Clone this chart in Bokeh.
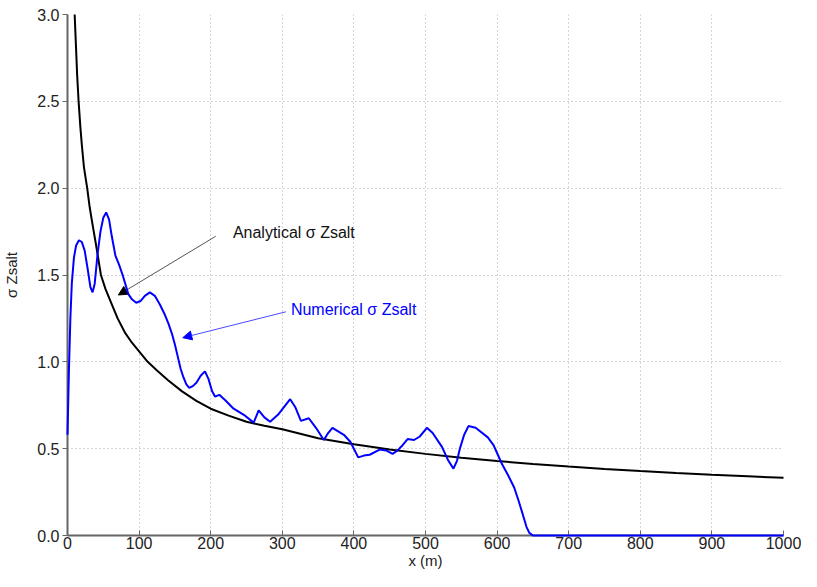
from bokeh.plotting import figure
from bokeh.models import Range1d, FixedTicker, Label, Arrow, NormalHead
from bokeh.embed import file_html
from bokeh.resources import INLINE

# Analytical sigma Zsalt
ana_x = [10, 11, 12, 13.5, 15.5, 18, 20, 23, 27.5, 31, 35, 40, 46.7, 53, 60, 70, 80, 90, 100, 112, 125, 140,
         160, 180, 200, 225, 250, 275, 300, 350, 400, 450, 500, 550, 600, 650, 700, 750, 800, 850, 900, 950, 1000]
ana_y = [3.0, 2.9, 2.8, 2.65, 2.5, 2.35, 2.25, 2.12, 2.0, 1.89, 1.79, 1.67, 1.5, 1.42, 1.35, 1.25, 1.17, 1.11,
         1.06, 1.0, 0.95, 0.895, 0.83, 0.775, 0.73, 0.69, 0.655, 0.632, 0.612, 0.56, 0.525, 0.495, 0.47, 0.448,
         0.429, 0.412, 0.397, 0.383, 0.371, 0.360, 0.350, 0.341, 0.332]

# Numerical sigma Zsalt
num_x = [0, 2, 4, 6, 9, 12, 16, 20, 24, 28, 32, 35, 38, 42, 46, 50, 54, 58, 62, 67, 72, 77, 85, 90, 96, 102, 108,
         115, 122, 129, 135, 141, 146, 150, 154, 158, 162, 166, 170, 175, 180, 186, 192, 197, 202, 206, 212, 220,
         232, 248, 260, 267, 275, 283, 295, 311, 318, 326, 337, 347, 358, 364, 370, 378, 386, 395, 406, 414, 422,
         436, 445, 454, 461, 468, 475, 484, 492, 502, 510, 523, 532, 539, 544, 548, 554, 560, 570, 587, 595, 601,
         607, 615, 624, 630, 636, 641, 645, 650, 1000]
num_y = [0.58, 0.95, 1.25, 1.45, 1.60, 1.67, 1.70, 1.69, 1.64, 1.54, 1.43, 1.40, 1.45, 1.62, 1.75, 1.83, 1.86, 1.82,
         1.72, 1.61, 1.56, 1.50, 1.39, 1.36, 1.34, 1.35, 1.38, 1.40, 1.38, 1.33, 1.28, 1.22, 1.16, 1.10, 1.03, 0.96,
         0.91, 0.87, 0.85, 0.86, 0.88, 0.92, 0.945, 0.90, 0.83, 0.80, 0.81, 0.78, 0.73, 0.69, 0.65, 0.72, 0.68,
         0.655, 0.70, 0.785, 0.74, 0.66, 0.675, 0.62, 0.55, 0.59, 0.62, 0.60, 0.58, 0.54, 0.45, 0.46, 0.465, 0.495,
         0.49, 0.47, 0.49, 0.52, 0.555, 0.55, 0.57, 0.62, 0.59, 0.51, 0.43, 0.385, 0.43, 0.50, 0.58, 0.63, 0.62,
         0.565, 0.52, 0.465, 0.41, 0.35, 0.275, 0.20, 0.12, 0.05, 0.015, 0.0, 0.0]

x_ticks = [0, 100, 200, 300, 400, 500, 600, 700, 800, 900, 1000]
y_ticks = [0.0, 0.5, 1.0, 1.5, 2.0, 2.5, 3.0]
y_tick_labels = ["0.0", "0.5", "1.0", "1.5", "2.0", "2.5", "3.0"]

FONT = "Liberation Sans"

p = figure(width=801, height=571, output_backend="svg", toolbar_location=None,
           x_range=Range1d(0, 1000), y_range=Range1d(0, 3),
           min_border_left=66, min_border_right=18, min_border_top=14, min_border_bottom=33)
p.outline_line_color = None
p.background_fill_color = "white"
p.border_fill_color = "white"

p.xaxis.ticker = FixedTicker(ticks=x_ticks)
p.yaxis.ticker = FixedTicker(ticks=y_ticks)
p.yaxis.major_label_overrides = {t: l for t, l in zip(y_ticks, y_tick_labels)}

for ax in (p.xaxis, p.yaxis):
    ax.axis_line_color = "#666666"
    ax.axis_line_width = 2
    ax.major_tick_line_color = "#666666"
    ax.minor_tick_line_color = None
    ax.major_label_text_font = FONT
    ax.major_label_text_font_size = "16px"
    ax.major_label_text_color = "#222222"
    ax.axis_label_text_font = FONT
    ax.axis_label_text_font_size = "15px"
    ax.axis_label_text_font_style = "normal"
    ax.axis_label_text_color = "#222222"

p.xaxis.major_tick_in = 5
p.xaxis.major_tick_out = 0
p.yaxis.major_tick_in = 0
p.yaxis.major_tick_out = 5
p.xaxis.major_label_standoff = 1
p.yaxis.major_label_standoff = 3
p.xaxis.axis_label = "x (m)"
p.yaxis.axis_label = "σ Zsalt"
p.xaxis.axis_label_standoff = 0
p.yaxis.axis_label_standoff = 14

for g in (p.xgrid, p.ygrid):
    g.grid_line_color = "#aaaaaa"
    g.grid_line_dash = "1 3"
    g.grid_line_width = 1
p.xgrid.ticker = FixedTicker(ticks=x_ticks[1:])
p.ygrid.ticker = FixedTicker(ticks=y_ticks[1:])

p.line(ana_x, ana_y, line_color="black", line_width=2, level="overlay")
p.line(num_x, num_y, line_color="#0000ff", line_width=2, level="overlay")

p.add_layout(Label(x=231, y=1.746, text="Analytical σ Zsalt", text_font=FONT, text_font_size="16px",
                   text_color="#111111", text_baseline="middle", text_align="left"))
p.add_layout(Arrow(end=NormalHead(size=9, fill_color="black", line_color="black"),
                   x_start=207, y_start=1.723, x_end=71, y_end=1.385,
                   line_color="#555555", line_width=1))

p.add_layout(Label(x=312, y=1.30, text="Numerical σ Zsalt", text_font=FONT, text_font_size="16px",
                   text_color="#0000ff", text_baseline="middle", text_align="left"))
p.add_layout(Arrow(end=NormalHead(size=9, fill_color="#0000ff", line_color="#0000ff"),
                   x_start=305, y_start=1.288, x_end=161, y_end=1.139,
                   line_color="#4a4aff", line_width=1))

open("out.html", "w").write(file_html(p, INLINE))
